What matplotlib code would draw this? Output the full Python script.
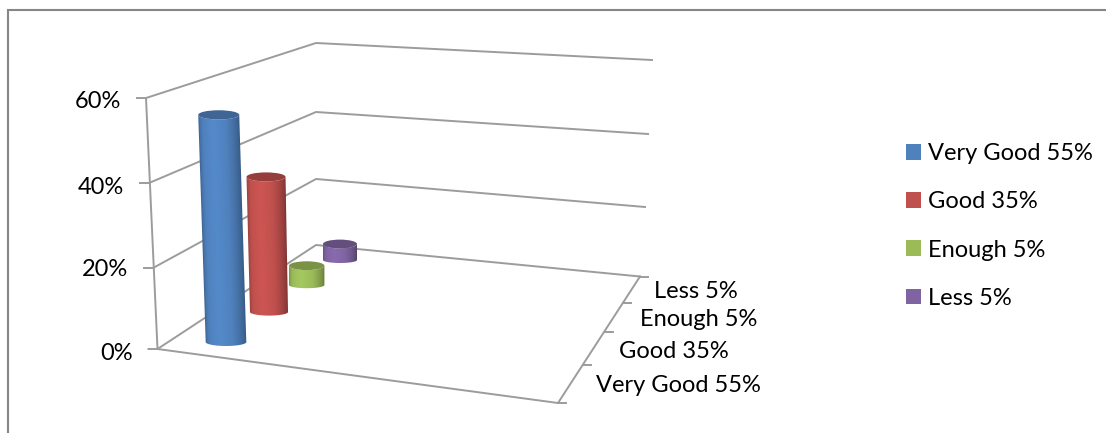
import matplotlib
matplotlib.use('Agg')
import matplotlib.pyplot as plt
import numpy as np
from matplotlib.colors import LinearSegmentedColormap, to_rgb
from matplotlib.patches import Ellipse, Patch, Polygon

categories = ['Very Good 55%', 'Good 35%', 'Enough 5%', 'Less 5%']
values = [55, 35, 5, 5]
y_ticks = [0, 20, 40, 60]
y_tick_labels = ['0%', '20%', '40%', '60%']
colors = ['#4F81BD', '#C0504D', '#9BBB59', '#8064A2']

# everything below is in picture pixels, y going down
W, H = 1106, 433
GRID = '#9C9C9C'
FONT = 'Lato'
FS = 17

# where the bars stand in the fake 3d box
base_x = [226, 269, 306.7, 340]
base_y = [342, 312, 285, 260]
px_per_pct = [4.13, 3.86, 3.86, 3.2]
lean = [-0.032, -0.022, 0.0, 0.0]
rx_top = [20.5, 19.5, 17.7, 17]
rx_bot = [20.3, 19, 17.7, 17]
ry_top = [4.6, 4.5, 4.4, 4.4]
ry_bot = [4, 3.6, 3.2, 3]

# box corners for each y tick: front left, back, right end
grid_front = [(157.5, 349), (153, 268), (149, 183), (146, 98)]
grid_back = [(316, 245), (316, 179), (316, 112), (316, 43)]
grid_right = [(640, 276.5), (645, 207), (648, 134), (652, 60)]
floor_front_right = (558, 403)
label_y = [353, 270, 187, 101]


def cylinder(ax, i, v):
    h = v * px_per_pct[i]
    top_x, top_y = base_x[i] + lean[i] * h, base_y[i] - h
    base = np.array(to_rgb(colors[i]))
    cmap = LinearSegmentedColormap.from_list('s', [
        base * 0.62, base * 0.8, base * 1.0, np.minimum(base * 1.07, 1), base * 1.0, base * 0.78])

    # gradient image, one row per pixel so it follows the lean of the bar
    x0, x1 = min(base_x[i], top_x) - 25, max(base_x[i], top_x) + 25
    y0, y1 = top_y - 6, base_y[i] + 6
    xs = np.linspace(x0, x1, int((x1 - x0) * 2))
    ys = np.linspace(y0, y1, int((y1 - y0) * 2))
    t = np.clip((base_y[i] - ys) / h, 0, 1)[:, None]
    cx = base_x[i] + (top_x - base_x[i]) * t
    rx = rx_bot[i] + (rx_top[i] - rx_bot[i]) * t
    u = np.clip((xs[None, :] - cx) / rx, -1, 1)
    img = cmap(np.arccos(u) / np.pi)
    im = ax.imshow(img, extent=(x0, x1, y1, y0), origin='upper', aspect='auto', interpolation='bilinear', zorder=3)

    # outline of the side of the cylinder, image gets clipped to it
    th = np.linspace(0, np.pi, 40)
    front = np.c_[base_x[i] + rx_bot[i] * np.cos(th), base_y[i] + ry_bot[i] * np.sin(th)]
    back = np.c_[top_x + rx_top[i] * np.cos(th[::-1]), top_y + ry_top[i] * np.sin(th[::-1])]
    body = Polygon(np.r_[front, back], closed=True, transform=ax.transData)
    im.set_clip_path(body)
    ax.add_patch(Ellipse((top_x, top_y), 2 * rx_top[i], 2 * ry_top[i],
                         facecolor=base * 0.78, edgecolor='none', zorder=4))


fig = plt.figure(figsize=(W / 100, H / 100), dpi=100)
ax = fig.add_axes([0, 0, 1, 1])
ax.set_xlim(0, W)
ax.set_ylim(H, 0)
ax.axis('off')

# outer chart frame
ax.plot([8, 8, W], [H, 10, 10], color='#868686', lw=1.5, solid_joinstyle='miter', zorder=1)

# gridlines on both walls, ticks and labels
for a, b, c, ly, lab in zip(grid_front, grid_back, grid_right, label_y, y_tick_labels):
    ax.plot([a[0] - 9, a[0], b[0], c[0]], [a[1], a[1], b[1], c[1]], color=GRID, lw=1.4, zorder=2)
    ax.text(a[0] - 25, ly, lab, ha='right', va='center', fontsize=FS, family=FONT, color='black')

# left axis and floor edges
ax.plot([grid_front[0][0], grid_front[-1][0]], [grid_front[0][1], grid_front[-1][1]], color=GRID, lw=1.4, zorder=2)
ax.plot([grid_front[0][0], floor_front_right[0], grid_right[0][0]],
        [grid_front[0][1], floor_front_right[1], grid_right[0][1]], color=GRID, lw=1.4, zorder=2)

# depth ticks and category labels along the floor's right edge
tick_pts = [(558, 403), (583, 365), (605, 332), (623, 303), (640, 276.5)]
label_pts = [(678.5, 386), (673.5, 351), (699, 320), (696, 292)]
for tx, ty in tick_pts:
    ax.plot([tx, tx + 8], [ty, ty], color=GRID, lw=1.4, zorder=2)
for (lx, ly), cat in zip(label_pts, categories):
    ax.text(lx, ly, cat, ha='center', va='center', fontsize=FS, family=FONT, color='black')

for i, v in enumerate(values):
    cylinder(ax, i, v)

handles = [Patch(facecolor=c, edgecolor='none') for c in colors]
ax.legend(handles, categories, loc='upper left', bbox_to_anchor=(885 / W, 1 - 122 / H), frameon=False,
          prop={'family': FONT, 'size': FS}, handlelength=0.64, handleheight=0.64, handletextpad=0.3,
          labelspacing=1.15, borderpad=0.4)

fig.savefig('out.png', dpi=100, facecolor='white')
